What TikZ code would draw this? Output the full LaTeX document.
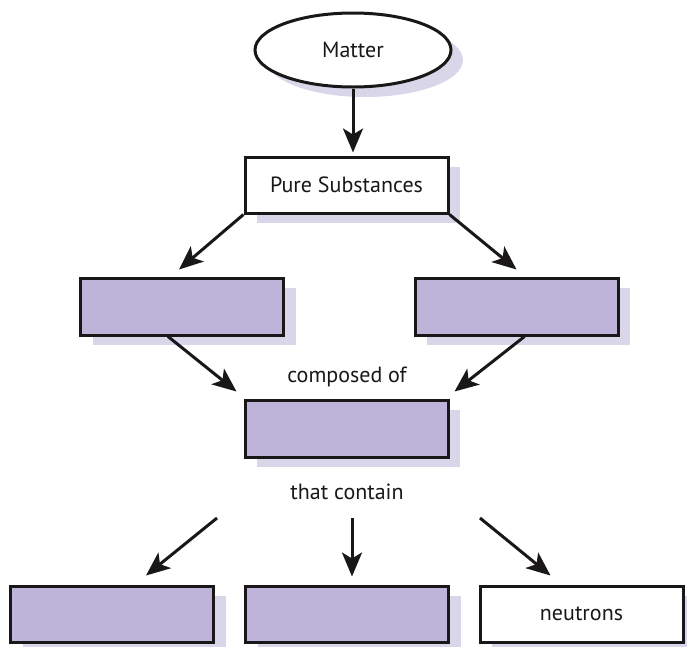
\documentclass[tikz,border=0pt]{standalone}
\usepackage{fontspec}
\setmainfont{PT Sans}
\usetikzlibrary{shapes.geometric,shadows,arrows.meta}
\definecolor{boxfill}{HTML}{BEB4D9}
\definecolor{shadowfill}{HTML}{DAD6EA}
\definecolor{inkline}{HTML}{1A1718}
\begin{document}
\begin{tikzpicture}[x=1pt,y=-1pt,
    font=\fontsize{22}{26}\selectfont,text=inkline,
    conceptbox/.style={draw=inkline,line width=3pt,fill=white,
      minimum width=203pt,minimum height=57pt,
      drop shadow={shadow xshift=12pt,shadow yshift=-10pt,fill=shadowfill,opacity=1}},
    blankbox/.style={conceptbox,fill=boxfill},
    arr/.style={draw=inkline,line width=3pt,-{Stealth[length=24pt,width=20pt,inset=6pt]}}]
  \useasboundingbox (0,0) rectangle (687,646);
  \node[ellipse,conceptbox,minimum width=196pt,minimum height=74pt] (matter) at (353,50) {Matter};
  \node[conceptbox,minimum height=56pt] (pure) at (346.5,185) {Pure Substances};
  \node[blankbox] (left) at (182,306.5) {};
  \node[blankbox] (right) at (516.5,306.5) {};
  \node (composed) at (347,377) {composed of};
  \node[blankbox] (center) at (346.5,428.5) {};
  \node (contain) at (347,492) {that contain};
  \node[blankbox,minimum height=56pt] (protons) at (112,614) {};
  \node[blankbox,minimum height=56pt] (electrons) at (347,614) {};
  \node[conceptbox,minimum height=56pt] (neutrons) at (581.5,614) {neutrons};
  \coordinate (c1) at (217,518);
  \coordinate (c2) at (352,518);
  \coordinate (c3) at (480,518);
  \begin{scope}[arr]
    \draw (matter.south) -- ([shift={(0,-3)}]matter.south |- pure.north);
    \draw (pure.south west) -- ([shift={(-3,-7)}]left.north);
    \draw (pure.south east) -- ([shift={(0,-7)}]right.north);
    \draw ([shift={(-14,0)}]left.south) -- ([shift={(-7,-7)}]center.north west);
    \draw ([shift={(8,0)}]right.south) -- ([shift={(5,-7)}]center.north east);
    \draw (c1) -- ([shift={(34,-9)}]protons.north);
    \draw[shorten >=8pt] (c2) -- (c2 |- electrons.north);
    \draw (c3) -- ([shift={(-31,-9)}]neutrons.north);
  \end{scope}
\end{tikzpicture}
\end{document}
